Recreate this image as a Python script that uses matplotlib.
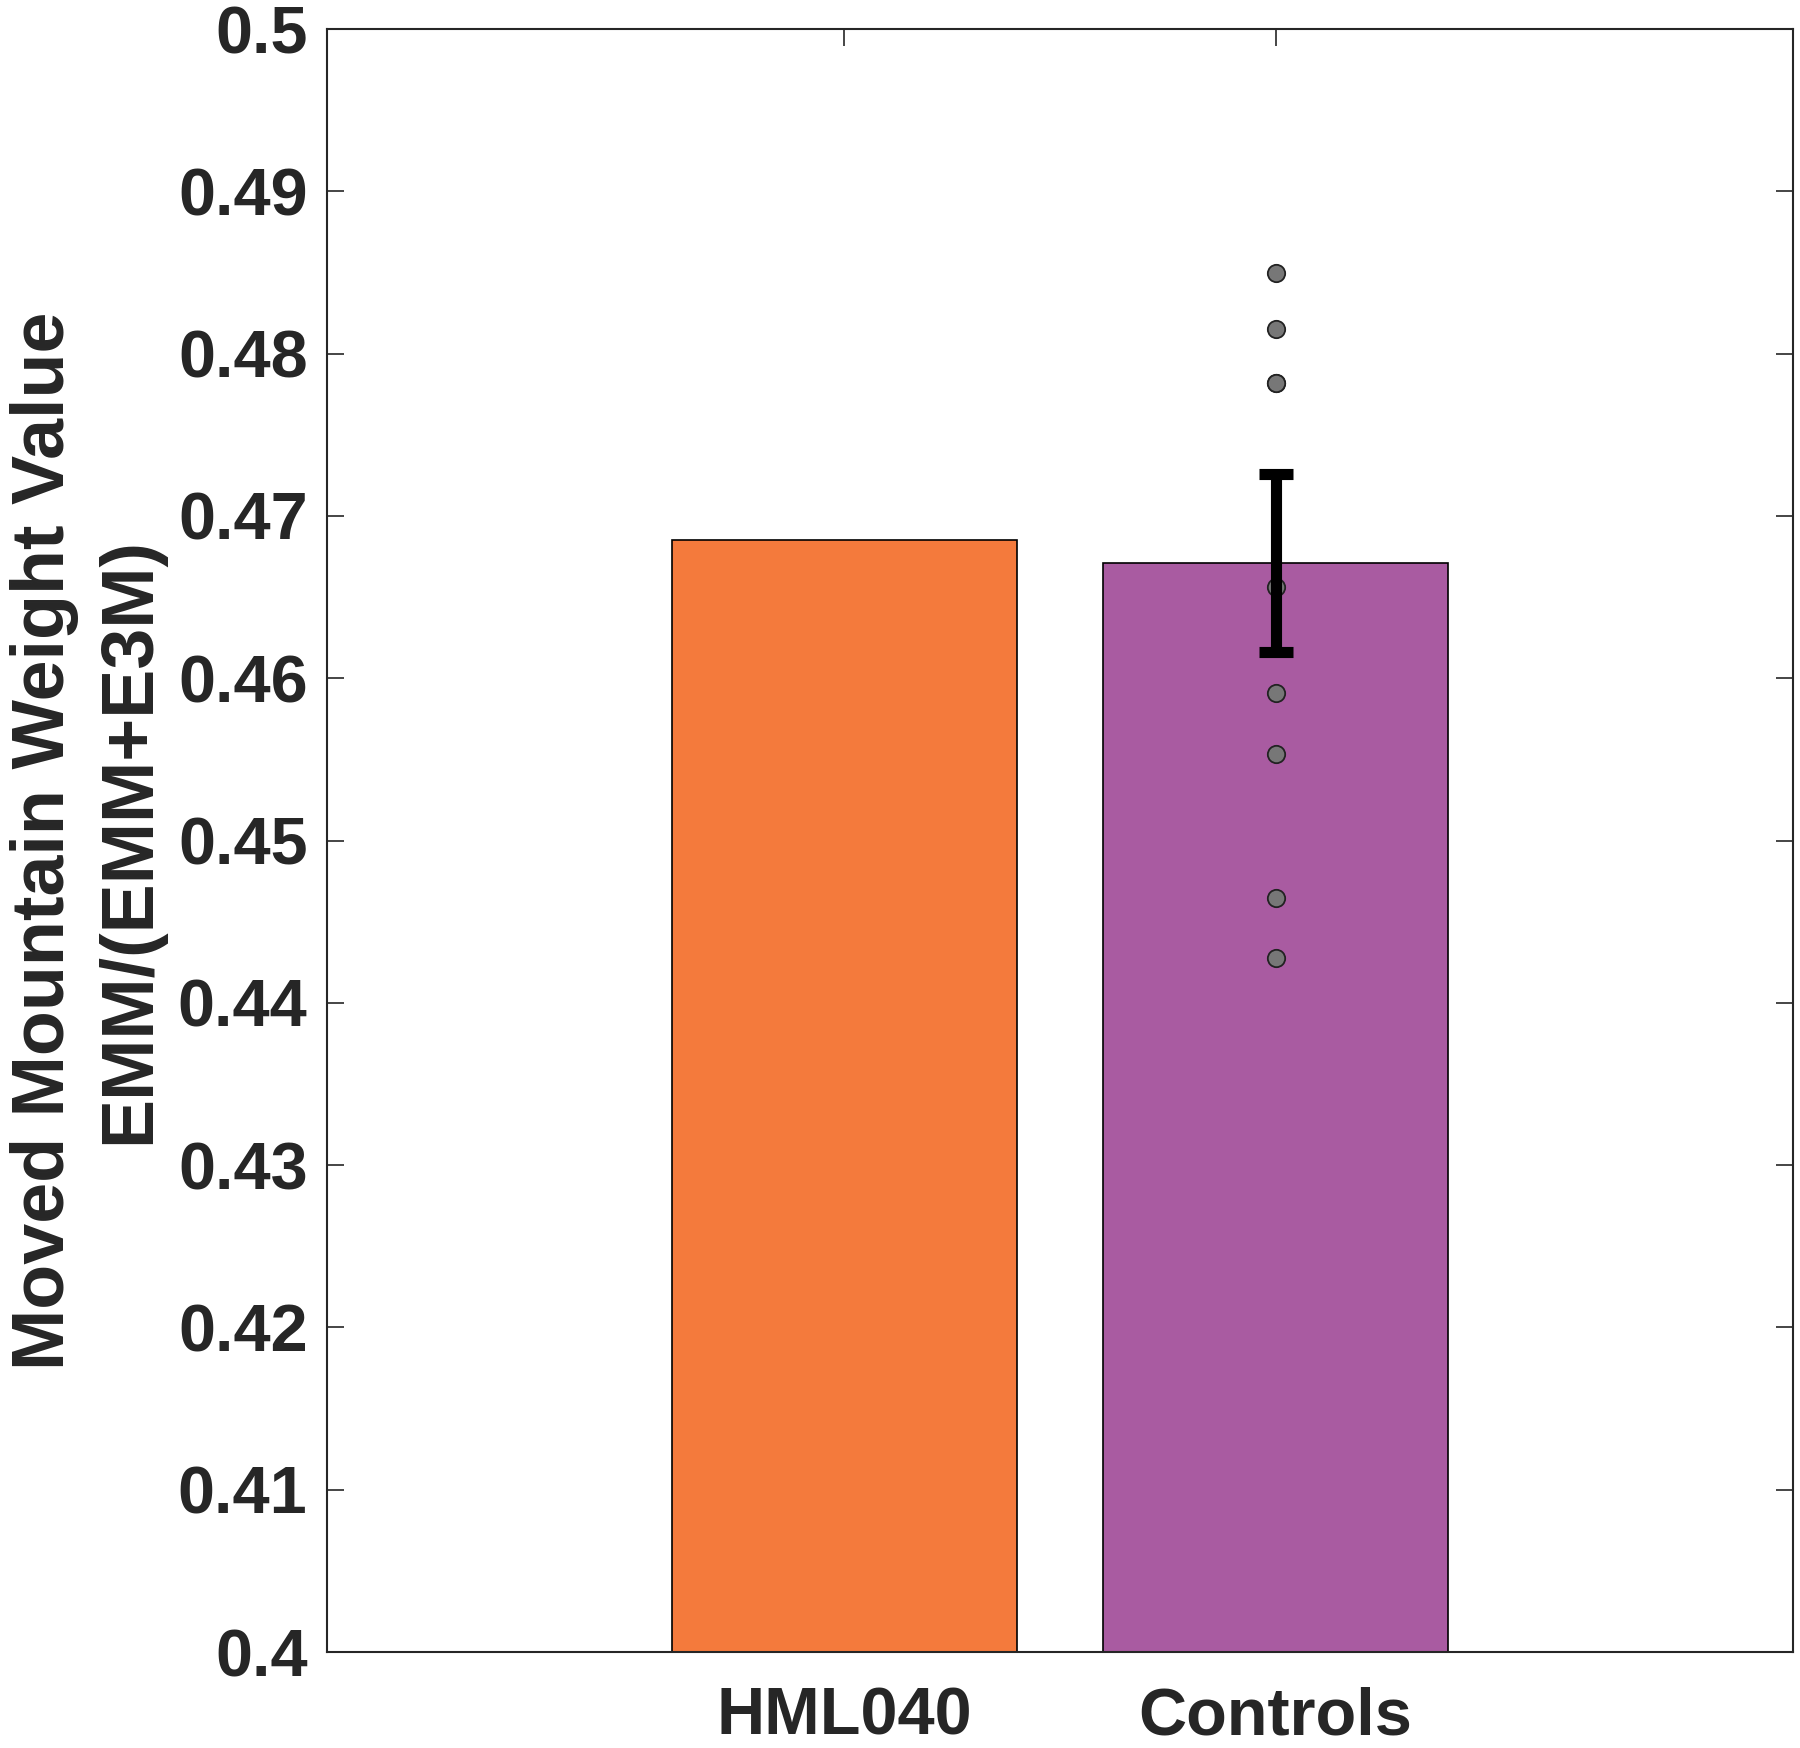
import matplotlib.pyplot as plt

groups = ["HML040", "Controls"]
means = [0.4685, 0.4671]
errs = [0.0, 0.0055]
control_points = [0.48495, 0.48152, 0.47817, 0.47817, 0.4656, 0.45911, 0.45533, 0.44644, 0.44275]
bar_colors = ["#F47A3C", "#A95BA1"]
yticks = [0.40, 0.41, 0.42, 0.43, 0.44, 0.45, 0.46, 0.47, 0.48, 0.49, 0.50]
ytick_labels = ["0.4", "0.41", "0.42", "0.43", "0.44", "0.45", "0.46", "0.47", "0.48", "0.49", "0.5"]

plt.rcParams["font.family"] = ["Liberation Sans", "DejaVu Sans"]
plt.rcParams["font.weight"] = "bold"

fig = plt.figure(figsize=(18, 17.48), dpi=100)
ax = fig.add_axes([0.1817, 0.0549, 0.8144, 0.9285])

x = [1, 2]
ax.bar(x, means, width=0.8, color=bar_colors, edgecolor="black", linewidth=1.2, zorder=2)

# individual control values
ax.plot([2] * len(control_points), control_points, "o", color="#777777",
        markeredgecolor="#222222", markeredgewidth=1.3, markersize=12.5, zorder=3)

# error bar on controls
ax.errorbar(2, means[1], yerr=errs[1], fmt="none", ecolor="black",
            elinewidth=8, capsize=12, capthick=8, zorder=4)

ax.set_xlim(-0.2, 3.2)
ax.set_ylim(0.4, 0.5)
ax.set_xticks(x)
ax.set_xticklabels(groups)
ax.set_yticks(yticks)
ax.set_yticklabels(ytick_labels)

for s in ax.spines.values():
    s.set_color("#262626")
    s.set_linewidth(1.5)
ax.tick_params(direction="in", length=12, width=1.2, color="#262626",
               top=True, right=True, labelsize=48, labelcolor="#262626")
ax.tick_params(axis="y", pad=14)
ax.tick_params(axis="x", pad=25)

ax.set_ylabel("Moved Mountain Weight Value\nEMM/(EMM+E3M)", fontsize=53,
              fontweight="bold", color="#262626", linespacing=1.3, labelpad=10)

fig.savefig("out.png", dpi=100)
